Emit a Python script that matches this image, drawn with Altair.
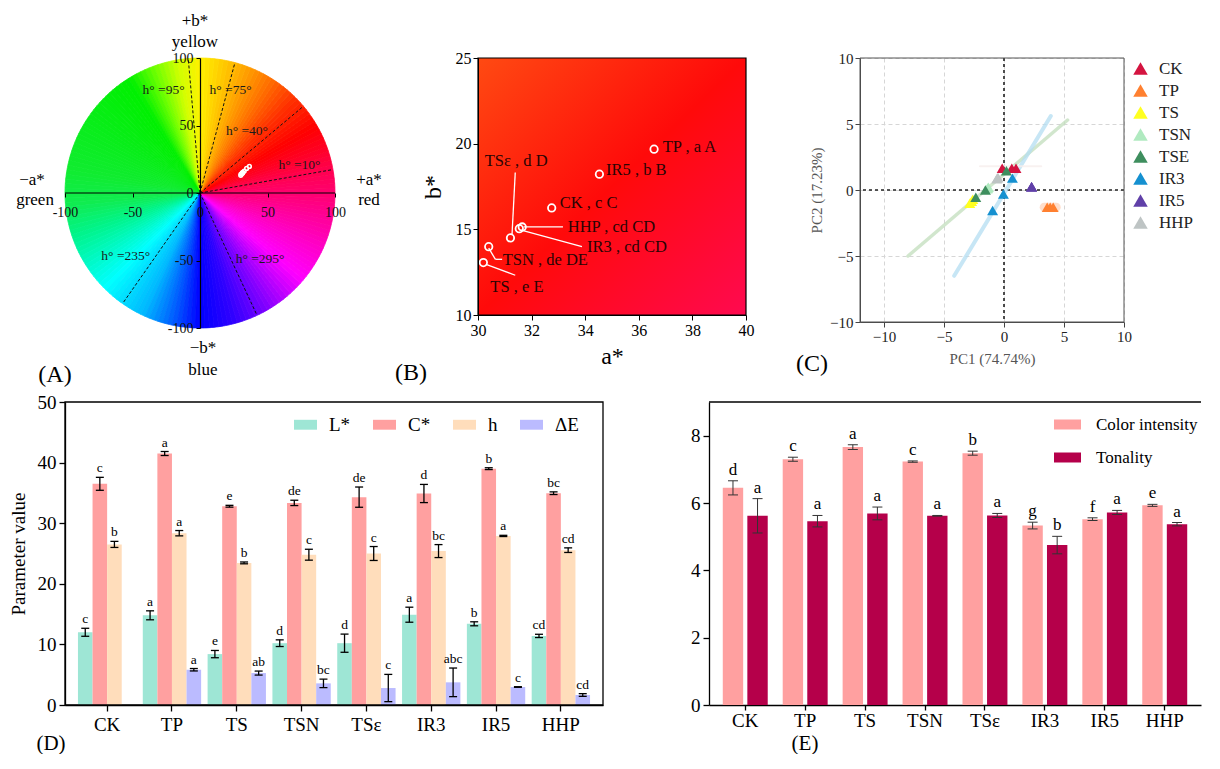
import altair as alt
import pandas as pd

FONT = "Liberation Serif"

# ===================== DATA =====================
# Panels A and B: a*, b* of each treatment
ab_sample = ["TP", "IR5", "CK", "HHP", "IR3", "TSε", "TSN", "TS"]
a_star = [36.57, 34.53, 32.75, 31.65, 31.54, 31.21, 30.40, 30.20]
b_star = [19.68, 18.22, 16.25, 15.14, 15.04, 14.50, 13.99, 13.06]
ab_text = ["TP , a A", "IR5 , b B", "CK , c C", "HHP , cd CD", "IR3 , cd CD",
           "TSε , d D", "TSN , de DE", "TS , e E"]

# Panel A: hue reference lines (degrees) and captions
hue_line_deg = [10, 40, 75, 95, 235, 295]
hue_caption = ["h°  =10°", "h°  =40°", "h°  =75°", "h°  =95°", "h°  =235°", "h°  =295°"]

# Panel C: PCA scores
pca_groups = ["CK", "TP", "TS", "TSN", "TSE", "IR3", "IR5", "HHP"]
pca_group = ["CK", "CK", "CK", "TP", "TP", "TP", "TS", "TS", "TS", "TSN", "TSN", "TSN",
             "TSE", "TSE", "TSE", "IR3", "IR3", "IR3", "IR5", "IR5", "IR5", "HHP", "HHP", "HHP"]
pc1 = [-0.15, 0.65, 1.0, 3.6, 3.85, 4.1, -2.85, -2.7, -2.6, -1.4, -1.35, -1.3,
       -2.35, -1.55, 0.2, -0.95, -0.05, 0.7, 2.3, 2.3, 2.3, -0.6, -0.55, -0.5]
pc2 = [1.65, 1.65, 1.65, -1.3, -1.3, -1.3, -1.0, -0.85, -0.7, 0.1, 0.15, 0.2,
       -0.55, 0.0, 1.45, -1.55, -0.3, 0.9, 0.25, 0.25, 0.25, 0.85, 0.9, 0.95]
# confidence ellipses (drawn along their long axes)
ell_name = ["TSE", "TSE", "IR3", "IR3", "CK", "CK", "TP", "TP"]
ell_pc1 = [-8.0, 5.3, -4.15, 3.9, -2.0, 3.1, 3.35, 4.35]
ell_pc2 = [-5.0, 5.3, -6.5, 5.6, 1.8, 1.8, -1.3, -1.3]

# Panel D: colour parameters
cats = ["CK", "TP", "TS", "TSN", "TSε", "IR3", "IR5", "HHP"]
params = ["L*", "C*", "h", "ΔE"]
L_mean = [12.0, 14.8, 8.4, 10.2, 10.2, 14.9, 13.4, 11.4]
L_err = [0.66, 0.74, 0.6, 0.55, 1.5, 1.24, 0.33, 0.27]
L_sig = ["c", "a", "e", "d", "d", "a", "b", "cd"]
C_mean = [36.5, 41.5, 32.8, 33.35, 34.3, 34.9, 39.0, 34.95]
C_err = [1.07, 0.33, 0.15, 0.44, 1.67, 1.5, 0.15, 0.22]
C_sig = ["c", "a", "e", "de", "de", "d", "b", "bc"]
h_mean = [26.5, 28.35, 23.45, 24.8, 25.0, 25.4, 27.9, 25.55]
h_err = [0.5, 0.44, 0.15, 0.9, 1.15, 1.07, 0.1, 0.38]
h_sig = ["b", "a", "b", "c", "c", "bc", "a", "cd"]
dE_mean = [None, 5.82, 5.27, 3.57, 2.8, 3.74, 2.97, 1.65]
dE_err = [None, 0.2, 0.33, 0.7, 2.25, 2.36, 0.05, 0.22]
dE_sig = ["", "a", "ab", "bc", "c", "abc", "c", "cd"]

# Panel E: colour intensity / tonality
series_E = ["Color intensity", "Tonality"]
ci_mean = [6.45, 7.30, 7.66, 7.23, 7.48, 5.33, 5.52, 5.93]
ci_err = [0.21, 0.06, 0.07, 0.02, 0.06, 0.10, 0.04, 0.03]
ci_sig = ["d", "c", "a", "c", "b", "g", "f", "e"]
ton_mean = [5.62, 5.46, 5.69, 5.62, 5.63, 4.75, 5.72, 5.37]
ton_err = [0.51, 0.17, 0.19, 0.01, 0.06, 0.26, 0.06, 0.05]
ton_sig = ["a", "a", "a", "a", "a", "b", "a", "a"]

# ===================== ANNOTATION ANCHORS (data units) =====================
hue_cap_x = [73.7, 34.8, 22.6, -27.0, -55.0, 44.5]
hue_cap_y = [20.7, 46.2, 76.6, 76.6, -46.7, -48.7]
lab_a = [36.89, 34.78, 33.05, 33.35, 34.07, 30.25, 30.92, 30.46]
lab_b = [19.78, 18.45, 16.53, 15.14, 13.97, 18.96, 13.19, 11.64]
lead_x1 = [31.70, 31.58, 31.39, 30.40, 30.65, 30.30]
lead_y1 = [15.14, 14.97, 18.32, 13.90, 13.25, 12.96]
lead_x2 = [33.17, 33.88, 31.27, 30.65, 30.90, 31.39]
lead_y2 = [15.14, 13.99, 14.71, 13.25, 13.25, 12.32]

# ===================== STYLES =====================
hue_stops = [0, 10, 20, 30, 45, 60, 75, 90, 100, 110, 122, 170, 185, 200, 225, 245, 260, 270, 285, 300, 320, 340, 360]
hue_colors = ["#FF0070", "#FF0050", "#FF0025", "#FF0000", "#FF3000", "#FF7800", "#FFB800", "#FFF000",
              "#D0FF00", "#70FF00", "#00F000", "#10EC30", "#10EC50", "#00F590", "#00FFFF", "#00B8FF",
              "#0050FF", "#0000FF", "#3000FF", "#8000FF", "#FF00FF", "#FF00B8", "#FF0070"]
group_colors = ["#D41440", "#FF8030", "#FFFF20", "#B0EAC0", "#3E8E5E", "#1590D0", "#6040A8", "#BEC4C4"]
param_colors = ["#9EE6D5", "#FFA0A0", "#FFDDBB", "#BBBBFF"]
e_colors = ["#FFA0A0", "#B5004A"]

ONE = pd.DataFrame({"k": [0]})


def note(text, x, y, size, color="black", align="center"):
    return alt.Chart(ONE).mark_text(text=text, font=FONT, fontSize=size, color=color,
                                    align=align, baseline="middle").encode(
        x=alt.value(x), y=alt.value(y))


def frame(w, h, color="black", sw=1.2):
    return alt.Chart(ONE).mark_rect(filled=False, color=color, strokeWidth=sw).encode(
        x=alt.value(0), x2=alt.value(w), y=alt.value(0), y2=alt.value(h))


# ===================== PANEL A =====================
WA, HA = 299, 270
PXA = HA / 200.0
xA_scale = alt.Scale(domain=[-100, -100 + WA / PXA], nice=False, zero=False)
yA_scale = alt.Scale(domain=[-100, 100], nice=False, zero=False)
axA_x = alt.Axis(orient="bottom", offset=-HA / 2, values=[-100, -50, 0, 50, 100],
                 labelExpr="'' + datum.value", title=None, grid=False, domain=False,
                 tickSize=4, tickColor="black", labelFontSize=14, labelPadding=8,
                 labelColor="#111", zindex=3)
axA_y = alt.Axis(orient="left", offset=-100 * PXA, values=[-100, -50, 0, 50, 100],
                 labelExpr="'' + datum.value", title=None, grid=False, domainColor="black",
                 domainWidth=1.2, tickSize=4, tickColor="black", labelFontSize=14,
                 labelPadding=3, labelColor="#111", zindex=3)


def XA(f):
    return alt.X(f, scale=xA_scale, axis=axA_x)


def YA(f):
    return alt.Y(f, scale=yA_scale, axis=axA_y)


hue_scale = alt.Scale(domain=hue_stops, range=hue_colors, interpolate="rgb")
wheel = alt.Chart(alt.sequence(0, 360, 2, as_="h")).transform_calculate(
    t0="(88 - datum.h) * PI / 180", t1="(90 - datum.h) * PI / 180", hm="datum.h + 1"
).mark_arc(radius=HA / 2, strokeWidth=0.8).encode(
    x=alt.datum(0), y=alt.datum(0),
    theta=alt.Theta("t0:Q", scale=None), theta2=alt.Theta2("t1:Q"),
    color=alt.Color("hm:Q", scale=hue_scale, legend=None),
    stroke=alt.Stroke("hm:Q", scale=hue_scale, legend=None),
)

hue_df = pd.DataFrame({"h": hue_line_deg, "cap": hue_caption, "cx": hue_cap_x, "cy": hue_cap_y})
hue_lines = alt.Chart(hue_df).transform_calculate(
    ox="0", oy="0", ex="100 * cos(datum.h * PI / 180)", ey="100 * sin(datum.h * PI / 180)"
).mark_rule(color="#111", strokeDash=[3, 2], strokeWidth=1).encode(
    x=XA("ox:Q"), y=YA("oy:Q"), x2="ex:Q", y2="ey:Q")
hue_caps = alt.Chart(hue_df).mark_text(font=FONT, fontSize=13.5, color="#1a1a1a").encode(
    x=XA("cx:Q"), y=YA("cy:Q"), text="cap:N")

hline = alt.Chart(pd.DataFrame({"x0": [-100], "x1": [100], "y0": [0]})).mark_rule(
    color="black", strokeWidth=1.2).encode(x=XA("x0:Q"), x2="x1:Q", y=YA("y0:Q"))

ab_df = pd.DataFrame({"sample": ab_sample, "a": a_star, "b": b_star, "txt": ab_text,
                      "la": lab_a, "lb": lab_b})
a_pts = alt.Chart(ab_df).mark_point(shape="circle", filled=False, color="white", size=14,
                                    strokeWidth=1.6, opacity=1).encode(x=XA("a:Q"), y=YA("b:Q"))

panelA = alt.layer(
    wheel, hue_lines, hline, hue_caps, a_pts,
    note("+b*", 130, -37, 17), note("yellow", 130, -16, 17),
    note("−b*", 138, 290, 17), note("blue", 138, 312, 17),
    note("+a*", 304, 122, 17), note("red", 304, 142, 17),
    note("−a*", -33, 122, 17), note("green", -30, 142, 17),
    note("(A)", -10, 317, 24),
).properties(width=WA, height=HA)

# ===================== PANEL B =====================
WB, HB = 268, 257
axB_x = alt.Axis(values=[30, 32, 34, 36, 38, 40], title="a*", titleFontSize=24,
                 titleFontWeight="normal", titlePadding=6, labelFontSize=16, tickSize=5,
                 grid=False, domainColor="black", tickColor="black", labelColor="black",
                 titleColor="black", zindex=3)
axB_y = alt.Axis(values=[10, 15, 20, 25], title="b*", titleFontSize=24, titleFontWeight="normal",
                 titlePadding=10, labelFontSize=16, tickSize=5, grid=False, domainColor="black",
                 tickColor="black", labelColor="black", titleColor="black", zindex=3)


def XB(f):
    return alt.X(f, scale=alt.Scale(domain=[30, 40], nice=False, zero=False), axis=axB_x)


def YB(f):
    return alt.Y(f, scale=alt.Scale(domain=[10, 25], nice=False, zero=False), axis=axB_y)


bgB = alt.Chart(ONE).mark_rect(fill=alt.LinearGradient(
    gradient="linear", x1=0, y1=0, x2=1, y2=1,
    stops=[alt.GradientStop(color="#FF4A12", offset=0),
           alt.GradientStop(color="#FF0A0A", offset=0.5),
           alt.GradientStop(color="#FF0A50", offset=1)])).encode(
    x=alt.value(0), x2=alt.value(WB), y=alt.value(0), y2=alt.value(HB))

lead_df = pd.DataFrame({"x1": lead_x1, "y1": lead_y1, "x2": lead_x2, "y2": lead_y2})
leadB = alt.Chart(lead_df).mark_rule(color="white", strokeWidth=1.3).encode(
    x=XB("x1:Q"), y=YB("y1:Q"), x2="x2:Q", y2="y2:Q")
ptsB = alt.Chart(ab_df).mark_point(shape="circle", filled=False, color="white", size=55,
                                   strokeWidth=1.8, opacity=1).encode(x=XB("a:Q"), y=YB("b:Q"))
txtB = alt.Chart(ab_df).mark_text(font=FONT, fontSize=16.5, color="#2a0404", align="left",
                                  baseline="middle").encode(x=XB("la:Q"), y=YB("lb:Q"), text="txt:N")

panelB = alt.layer(bgB, leadB, ptsB, txtB, frame(WB, HB), note("(B)", -67, 315, 24)).properties(
    width=WB, height=HB)

# ===================== PANEL C =====================
WC, HC = 264, 264
axC_x = alt.Axis(values=[-10, -5, 0, 5, 10], title="PC1 (74.74%)", grid=True, gridColor="#d6d6d6",
                 gridDash=[4, 3], tickSize=5, labelFontSize=15, titleFontSize=15,
                 titleFontWeight="normal", titleColor="#555", titlePadding=7, domainColor="#444",
                 tickColor="#444", labelColor="#222")
axC_y = alt.Axis(values=[-10, -5, 0, 5, 10], title="PC2 (17.23%)", grid=True, gridColor="#d6d6d6",
                 gridDash=[4, 3], tickSize=5, labelFontSize=15, titleFontSize=15,
                 titleFontWeight="normal", titleColor="#555", titlePadding=5, domainColor="#444",
                 tickColor="#444", labelColor="#222")


def XC(f):
    return alt.X(f, scale=alt.Scale(domain=[-12, 10], nice=False, zero=False), axis=axC_x)


def YC(f):
    return alt.Y(f, scale=alt.Scale(domain=[-10, 10], nice=False, zero=False), axis=axC_y)


zero_df = pd.DataFrame({"z": [0]})
zx = alt.Chart(zero_df).mark_rule(color="#222", strokeDash=[3, 3], strokeWidth=1.6).encode(x=XC("z:Q"))
zy = alt.Chart(zero_df).mark_rule(color="#222", strokeDash=[3, 3], strokeWidth=1.6).encode(y=YC("z:Q"))

ell_df = pd.DataFrame({"e": ell_name, "x": ell_pc1, "y": ell_pc2})
ell_style = {"TSE": ("#C2DDBC", 3.5, 0.75), "IR3": ("#B4DDF2", 4, 0.75),
             "CK": ("#F6EEEC", 2, 0.8), "TP": ("#FFD8C2", 9, 0.85)}
ell_layers = []
for nm, (col, sw, op) in ell_style.items():
    ell_layers.append(alt.Chart(ell_df).transform_filter(alt.datum.e == nm).mark_line(
        color=col, strokeWidth=sw, opacity=op, strokeCap="round").encode(
        x=XC("x:Q"), y=YC("y:Q")))

pca_df = pd.DataFrame({"grp": pca_group, "pc1": pc1, "pc2": pc2})
legC = alt.Legend(title=None, orient="none", legendX=272, legendY=2, symbolType="triangle-up",
                  symbolSize=210, symbolStrokeWidth=0, labelFontSize=17, labelFont=FONT,
                  labelColor="#222", rowPadding=4, labelOffset=10)
ptsC = alt.Chart(pca_df).mark_point(shape="triangle-up", filled=True, size=120, opacity=1).encode(
    x=XC("pc1:Q"), y=YC("pc2:Q"),
    color=alt.Color("grp:N", scale=alt.Scale(domain=pca_groups, range=group_colors), legend=legC))

panelC = alt.layer(zx, zy, *ell_layers, ptsC, frame(WC, HC, "#555", 1.0),
                   note("(C)", -48, 306, 24)).properties(width=WC, height=HC)

# ===================== PANEL D =====================
WD, HD = 538, 303
d_mean = {"L*": L_mean, "C*": C_mean, "h": h_mean, "ΔE": dE_mean}
d_err = {"L*": L_err, "C*": C_err, "h": h_err, "ΔE": dE_err}
d_sig = {"L*": L_sig, "C*": C_sig, "h": h_sig, "ΔE": dE_sig}
rows = []
for p in params:
    for i, c in enumerate(cats):
        m = d_mean[p][i]
        if m is None:
            continue
        e = d_err[p][i]
        rows.append({"cat": c, "param": p, "mean": m, "lo": m - e, "hi": m + e, "sig": d_sig[p][i]})
dfD = pd.DataFrame(rows)

axD_x = alt.Axis(title=None, labelAngle=0, labelFontSize=19, tickSize=6, labelPadding=4,
                 domainColor="black", tickColor="black", labelColor="black", domainWidth=1.3,
                 tickWidth=1.3)
axD_y = alt.Axis(values=[0, 10, 20, 30, 40, 50], title="Parameter value", titleFontSize=19,
                 titleFontWeight="normal", titlePadding=9, labelFontSize=19, tickSize=6,
                 labelPadding=3, grid=False, domainColor="black", tickColor="black",
                 labelColor="black", titleColor="black", domainWidth=1.3, tickWidth=1.3)
xD = alt.X("cat:N", sort=cats, scale=alt.Scale(domain=cats, paddingInner=0.1, paddingOuter=0.2),
           axis=axD_x)
xoD = alt.XOffset("param:N", sort=params,
                  scale=alt.Scale(domain=params, paddingInner=0, paddingOuter=0))


def YD(f):
    return alt.Y(f, scale=alt.Scale(domain=[0, 50], nice=False), axis=axD_y)


legD = alt.Legend(title=None, orient="none", legendX=229, legendY=11, direction="horizontal",
                  symbolType="M-1,-0.43L1,-0.43L1,0.43L-1,0.43Z", symbolSize=529,
                  symbolStrokeWidth=0, labelFontSize=19, labelFont=FONT, labelColor="black",
                  labelOffset=12, columnPadding=22)
baseD = alt.Chart(dfD).encode(x=xD, xOffset=xoD)
barsD = baseD.mark_bar().encode(
    y=YD("mean:Q"),
    color=alt.Color("param:N", scale=alt.Scale(domain=params, range=param_colors), legend=legD))
errD = baseD.mark_rule(color="black", strokeWidth=1.3).encode(y=YD("lo:Q"), y2="hi:Q")
capLoD = baseD.mark_tick(orient="horizontal", size=8, thickness=1.3, color="black", opacity=1).encode(y=YD("lo:Q"))
capHiD = baseD.mark_tick(orient="horizontal", size=8, thickness=1.3, color="black", opacity=1).encode(y=YD("hi:Q"))
sigD = baseD.mark_text(font=FONT, fontSize=13.5, color="black", baseline="bottom", dy=-2).encode(
    y=YD("hi:Q"), text="sig:N")

panelD = alt.layer(barsD, errD, capLoD, capHiD, sigD, frame(WD, HD, "black", 1.3),
                   note("(D)", -14, 342, 21)).properties(width=WD, height=HD)

# ===================== PANEL E =====================
WE, HE = 492, 303
rowsE = []
for s, mm, ee, ss in [("Color intensity", ci_mean, ci_err, ci_sig), ("Tonality", ton_mean, ton_err, ton_sig)]:
    for i, c in enumerate(cats):
        rowsE.append({"cat": c, "series": s, "mean": mm[i], "lo": mm[i] - ee[i], "hi": mm[i] + ee[i],
                      "sig": ss[i]})
dfE = pd.DataFrame(rowsE)

axE_x = alt.Axis(title=None, labelAngle=0, labelFontSize=19, tickSize=5, labelPadding=1,
                 domainColor="black", tickColor="black", labelColor="black", domainWidth=1.3,
                 tickWidth=1.3)
axE_y = alt.Axis(values=[0, 2, 4, 6, 8], title=None, labelFontSize=19, tickSize=6, labelPadding=3,
                 grid=False, domainColor="black", tickColor="black", labelColor="black",
                 domainWidth=1.3, tickWidth=1.3)
xE = alt.X("cat:N", sort=cats, scale=alt.Scale(domain=cats, paddingInner=0.25, paddingOuter=0.23),
           axis=axE_x)
xoE = alt.XOffset("series:N", sort=series_E,
                  scale=alt.Scale(domain=series_E, paddingInner=0.17, paddingOuter=0))


def YE(f):
    return alt.Y(f, scale=alt.Scale(domain=[0, 9], nice=False), axis=axE_y)


legE = alt.Legend(title=None, orient="none", legendX=345, legendY=9, direction="vertical",
                  symbolType="M-1,-0.37L1,-0.37L1,0.37L-1,0.37Z", symbolSize=729,
                  symbolStrokeWidth=0, labelFontSize=17, labelFont=FONT, labelColor="black",
                  labelOffset=15, rowPadding=11)
baseE = alt.Chart(dfE).encode(x=xE, xOffset=xoE)
barsE = baseE.mark_bar().encode(
    y=YE("mean:Q"),
    color=alt.Color("series:N", scale=alt.Scale(domain=series_E, range=e_colors), legend=legE))
errE = baseE.mark_rule(color="#333", strokeWidth=1).encode(y=YE("lo:Q"), y2="hi:Q")
capLoE = baseE.mark_tick(orient="horizontal", size=10, thickness=1, color="#333", opacity=1).encode(y=YE("lo:Q"))
capHiE = baseE.mark_tick(orient="horizontal", size=10, thickness=1, color="#333", opacity=1).encode(y=YE("hi:Q"))
sigE = baseE.mark_text(font=FONT, fontSize=17, color="black", baseline="bottom", dy=-2).encode(
    y=YE("hi:Q"), text="sig:N")
topE = alt.Chart(ONE).mark_rule(color="black", strokeWidth=1.3).encode(
    x=alt.value(0), x2=alt.value(WE), y=alt.value(0))

panelE = alt.layer(barsE, errE, capLoE, capHiE, sigE, topE, note("(E)", 96, 342, 21)).properties(
    width=WE, height=HE)

# ===================== LAYOUT =====================
RES = dict(color="independent", stroke="independent", x="independent", y="independent",
           xOffset="independent")
row1 = alt.hconcat(panelA, panelB, panelC, spacing=114, bounds="flush").resolve_scale(**RES).resolve_legend(color="independent")
row2 = alt.hconcat(panelD, panelE, spacing=106, bounds="flush").resolve_scale(**RES).resolve_legend(color="independent")
chart = alt.vconcat(row1, row2, spacing=6).resolve_scale(**RES).resolve_legend(color="independent").properties(
    padding={"left": 1, "top": 4, "right": 2, "bottom": 0}
).configure(font=FONT).configure_view(stroke=None).configure_axis(
    labelFont=FONT, titleFont=FONT, labelFlush=False, labelOverlap=False
)

chart.save("out.html", embed_options={"renderer": "svg", "actions": False})
